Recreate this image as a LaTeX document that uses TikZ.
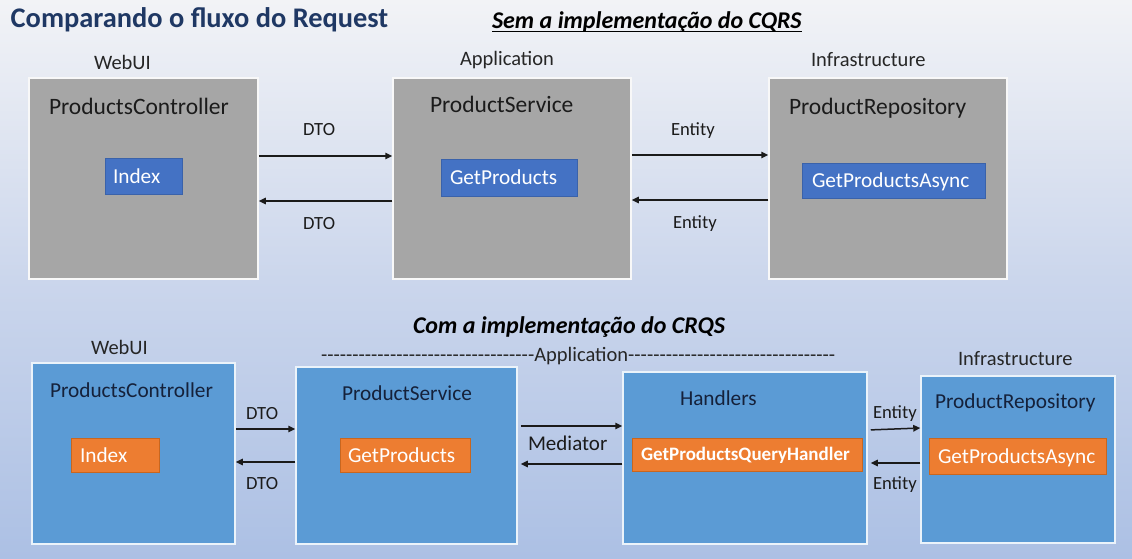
\documentclass[tikz,border=0pt]{standalone}
\usepackage{fontspec}
\newfontfamily\cf{Carlito}
\usetikzlibrary{arrows.meta}
\definecolor{bgtop}{HTML}{F2F3F6}
\definecolor{bgmid}{HTML}{CBD6EC}
\definecolor{bgbot}{HTML}{ACC0E4}
\definecolor{navy}{HTML}{1F3864}
\definecolor{graybox}{HTML}{A6A6A6}
\definecolor{blueinner}{HTML}{4472C4}
\definecolor{blueinnerb}{HTML}{3A62AA}
\definecolor{blueouter}{HTML}{5B9BD5}
\definecolor{orangebox}{HTML}{ED7D31}
\definecolor{orangeb}{HTML}{C8661F}
\definecolor{txtdark}{HTML}{1B1B1B}
\definecolor{txtnavy}{HTML}{15213A}
\definecolor{lblc}{HTML}{262626}
\definecolor{arrc}{HTML}{1A1A1A}
\begin{document}
\begin{tikzpicture}[x=1pt,y=-1pt,
  txt/.style={inner sep=0pt, outer sep=0pt, anchor=base west},
  layer/.style={txt, font=\cf\fontsize{20.5}{24}\selectfont, text=lblc},
  gtitle/.style={txt, font=\cf\fontsize{23.5}{28}\selectfont, text=txtdark},
  btitle/.style={txt, font=\cf\fontsize{21.3}{25}\selectfont, text=txtnavy},
  intext/.style={txt, font=\cf\fontsize{21.3}{25}\selectfont, text=white},
  arrlbl/.style={txt, font=\cf\fontsize{18.6}{22}\selectfont, text=txtdark},
  gbox/.style={draw=white!92!graybox, line width=1.5pt, fill=graybox, inner sep=0pt, anchor=center},
  bbox/.style={draw=white!88!blueouter, line width=1.5pt, fill=blueouter, inner sep=0pt, anchor=center},
  ibox/.style={draw=blueinnerb, line width=0.8pt, fill=blueinner, inner sep=0pt, anchor=center},
  obox/.style={draw=orangeb, line width=0.8pt, fill=orangebox, inner sep=0pt, anchor=center},
  arr/.style={draw=arrc, line width=1.5pt, -{Triangle[length=7pt,width=6.5pt]}}
]
\useasboundingbox (0,0) rectangle (1132,558);
\shade[top color=bgtop, bottom color=bgbot, middle color=bgmid] (0,0) rectangle (1132,558);

% titles
\node[txt, font=\cf\bfseries\fontsize{28.4}{32}\selectfont, text=navy] (title) at (10.7,27) {Comparando o fluxo do Request};
\node[txt, font=\cf\bfseries\itshape\fontsize{24}{28}\selectfont, text=black] (sem) at (492,28) {Sem a implementação do CQRS};
\draw[line width=1.6pt, black] ([yshift=-3.5pt]sem.base west) -- ([yshift=-3.5pt]sem.base east);

% top layer labels
\node[layer] (webui1) at (94,69.6) {WebUI};
\node[layer] (app1) at (460,65.6) {Application};
\node[layer] (infra1) at (811,66.6) {Infrastructure};

% top boxes
\node[gbox, minimum width=229pt, minimum height=201pt] (pc) at (143.5,178.5) {};
\node[gbox, minimum width=238pt, minimum height=201pt] (ps) at (512,178.5) {};
\node[gbox, minimum width=238pt, minimum height=201pt] (pr) at (888,178.5) {};
\node[gtitle] (pct) at (49,114.5) {ProductsController};
\node[gtitle] (pst) at (430,112.5) {ProductService};
\node[gtitle] (prt) at (789,114.5) {ProductRepository};

\node[ibox, minimum width=77pt, minimum height=36pt] (idx1) at (143.5,176) {};
\node[ibox, minimum width=136pt, minimum height=37pt] (gp1) at (509,177.5) {};
\node[ibox, minimum width=183pt, minimum height=35pt] (gpa1) at (893.5,180.5) {};
\node[intext] (idx1t) at (113,183) {Index};
\node[intext] (gp1t) at (450,184.5) {GetProducts};
\node[intext] (gpa1t) at (812,187.5) {GetProductsAsync};

% top arrows
\draw[arr] (pc.east |- 0,156) -- (ps.west |- 0,156);
\draw[arr] (ps.west |- 0,201) -- (pc.east |- 0,201);
\draw[arr] (ps.east |- 0,155) -- (pr.west |- 0,155);
\draw[arr] (pr.west |- 0,200) -- (ps.east |- 0,200);
\node[arrlbl] (dto1) at (303,135) {DTO};
\node[arrlbl] (dto2) at (303,229) {DTO};
\node[arrlbl] (ent1) at (671,135) {Entity};
\node[arrlbl] (ent2) at (673,228) {Entity};

% bottom section
\node[txt, font=\cf\bfseries\itshape\fontsize{24}{28}\selectfont, text=black] (com) at (413,333) {Com a implementação do CRQS};
\node[layer] (app2) at (321,361.5) {----------------------------------Application---------------------------------};
\node[layer] (webui2) at (91,354.5) {WebUI};
\node[layer] (infra2) at (958,365.5) {Infrastructure};

\node[bbox, minimum width=203pt, minimum height=181pt] (pc2) at (133.5,453.5) {};
\node[bbox, minimum width=221pt, minimum height=177pt] (ps2) at (406.5,455.5) {};
\node[bbox, minimum width=244pt, minimum height=172pt] (hd) at (745,458) {};
\node[bbox, minimum width=194pt, minimum height=167pt] (pr2) at (1018,459.5) {};
\node[btitle] (pc2t) at (50,397) {ProductsController};
\node[btitle] (ps2t) at (342,400) {ProductService};
\node[btitle] (hdt) at (680,405) {Handlers};
\node[btitle] (pr2t) at (935,408) {ProductRepository};

\node[obox, minimum width=88pt, minimum height=34pt] (idx2) at (115,455) {};
\node[obox, minimum width=130pt, minimum height=34pt] (gp2) at (405,455) {};
\node[obox, minimum width=230pt, minimum height=33pt] (gq) at (747,454.5) {};
\node[obox, minimum width=177pt, minimum height=36pt] (gpa2) at (1017.5,456) {};
\node[intext] (idx2t) at (80,462) {Index};
\node[intext] (gp2t) at (348,462) {GetProducts};
\node[txt, font=\cf\bfseries\fontsize{19}{23}\selectfont, text=white] (gqt) at (641,460.5) {GetProductsQueryHandler};
\node[intext] (gpa2t) at (938,463) {GetProductsAsync};

% bottom arrows
\draw[arr] (pc2.east |- 0,429) -- (ps2.west |- 0,429);
\draw[arr] (ps2.west |- 0,462) -- (pc2.east |- 0,462);
\draw[arr, shorten <=3pt] (ps2.east |- 0,426) -- (hd.west |- 0,426);
\draw[arr, shorten >=3pt] (hd.west |- 0,464) -- (ps2.east |- 0,464);
\draw[arr, shorten <=3pt] (hd.east |- 0,430) -- (pr2.west |- 0,428);
\draw[arr, shorten >=3pt] (pr2.west |- 0,463) -- (hd.east |- 0,463);
\node[arrlbl] (dto3) at (246,419) {DTO};
\node[arrlbl] (dto4) at (246,489) {DTO};
\node[txt, font=\cf\fontsize{21}{25}\selectfont, text=txtdark] (med) at (528,450.7) {Mediator};
\node[arrlbl] (ent3) at (873,418) {Entity};
\node[arrlbl] (ent4) at (873,489) {Entity};
\end{tikzpicture}
\end{document}
